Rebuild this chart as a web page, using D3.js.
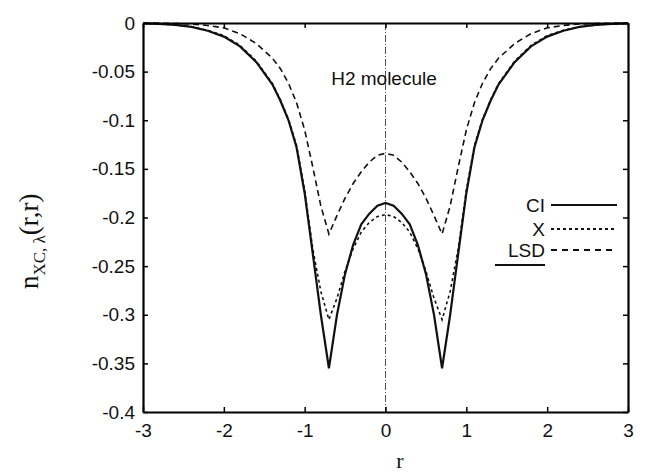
<!DOCTYPE html>
<html>
<head>
<meta charset="utf-8">
<script src="https://cdn.jsdelivr.net/npm/d3@7"></script>
<style>
  body { margin: 0; background: #fff; }
  svg { display: block; }
</style>
</head>
<body>
<div id="chart"></div>
<script>
// radial coordinate r along the bond axis
const rValues = [-3, -2.8, -2.6, -2.4, -2.2, -2.0, -1.8, -1.6, -1.4, -1.3, -1.2, -1.1, -1.0, -0.9, -0.8, -0.7,
  -0.6, -0.5, -0.4, -0.3, -0.2, -0.1, 0, 0.1, 0.2, 0.3, 0.4, 0.5, 0.6, 0.7, 0.8, 0.9, 1.0, 1.1, 1.2, 1.3, 1.4,
  1.6, 1.8, 2.0, 2.2, 2.4, 2.6, 2.8, 3];

const ciValues = [-0.0004, -0.001, -0.002, -0.004, -0.008, -0.014, -0.024, -0.040, -0.063, -0.080, -0.100, -0.128,
  -0.175, -0.237, -0.300, -0.355, -0.300, -0.258, -0.228, -0.207, -0.196, -0.188, -0.185, -0.188, -0.196, -0.207,
  -0.228, -0.258, -0.300, -0.355, -0.300, -0.237, -0.175, -0.128, -0.100, -0.080, -0.063, -0.040, -0.024, -0.014,
  -0.008, -0.004, -0.002, -0.001, -0.0004];

const xValues = [-0.0004, -0.0009, -0.0019, -0.0038, -0.0075, -0.013, -0.023, -0.039, -0.062, -0.079, -0.099, -0.126,
  -0.172, -0.232, -0.276, -0.305, -0.283, -0.255, -0.232, -0.215, -0.205, -0.199, -0.197, -0.199, -0.205, -0.215,
  -0.232, -0.255, -0.283, -0.305, -0.276, -0.232, -0.172, -0.126, -0.099, -0.079, -0.062, -0.039, -0.023, -0.013,
  -0.0075, -0.0038, -0.0019, -0.0009, -0.0004];

const lsdValues = [-0.0001, -0.0002, -0.0005, -0.001, -0.0025, -0.005, -0.011, -0.021, -0.036, -0.047, -0.062, -0.082,
  -0.110, -0.148, -0.188, -0.217, -0.198, -0.180, -0.165, -0.153, -0.143, -0.136, -0.134, -0.136, -0.143, -0.153,
  -0.165, -0.180, -0.198, -0.217, -0.188, -0.148, -0.110, -0.082, -0.062, -0.047, -0.036, -0.021, -0.011, -0.005,
  -0.0025, -0.001, -0.0005, -0.0002, -0.0001];

const xTicks = [-3, -2, -1, 0, 1, 2, 3];
const yTicks = [0, -0.05, -0.1, -0.15, -0.2, -0.25, -0.3, -0.35, -0.4];
const yTickLabels = ['0', '-0.05', '-0.1', '-0.15', '-0.2', '-0.25', '-0.3', '-0.35', '-0.4'];
const legendNames = ['CI', 'X', 'LSD'];

const W = 647, H = 476;
const plot = { left: 143, right: 628, top: 23, bottom: 412 };

const svg = d3.select('#chart').append('svg')
  .attr('width', W)
  .attr('height', H);

svg.append('rect').attr('width', W).attr('height', H).attr('fill', '#fff');

const x = d3.scaleLinear().domain([-3, 3]).range([plot.left, plot.right]);
const y = d3.scaleLinear().domain([-0.4, 0]).range([plot.bottom, plot.top]);

const tickFont = '"Liberation Sans", Arial, sans-serif';
const serifFont = '"Liberation Serif", "DejaVu Serif", serif';

// dash-dot line at r = 0
svg.append('line')
  .attr('x1', x(0)).attr('x2', x(0))
  .attr('y1', plot.top).attr('y2', plot.bottom)
  .attr('stroke', '#555')
  .attr('stroke-width', 1)
  .attr('stroke-dasharray', '7,2,1,2');

// curves
const series = [
  { values: ciValues, dash: null, width: 2.2 },
  { values: xValues, dash: '3,3', width: 1.6 },
  { values: lsdValues, dash: '6,4', width: 1.6 }
];

const line = d3.line()
  .x((d, i) => x(rValues[i]))
  .y(d => y(d));

series.forEach(s => {
  svg.append('path')
    .attr('d', line(s.values))
    .attr('fill', 'none')
    .attr('stroke', '#111')
    .attr('stroke-width', s.width)
    .attr('stroke-dasharray', s.dash);
});

// axes (box with inward ticks on all four sides)
const axisBottom = d3.axisBottom(x).tickValues(xTicks).tickSizeInner(-5).tickSizeOuter(0).tickPadding(12)
  .tickFormat(d => String(d));
const axisTop = d3.axisTop(x).tickValues(xTicks).tickSizeInner(-5).tickSizeOuter(0).tickFormat('');
const axisLeft = d3.axisLeft(y).tickValues(yTicks).tickSizeInner(-5).tickSizeOuter(0).tickPadding(8)
  .tickFormat((d, i) => yTickLabels[i]);
const axisRight = d3.axisRight(y).tickValues(yTicks).tickSizeInner(-5).tickSizeOuter(0).tickFormat('');

const gB = svg.append('g').attr('transform', `translate(0,${plot.bottom})`).call(axisBottom);
const gT = svg.append('g').attr('transform', `translate(0,${plot.top})`).call(axisTop);
const gL = svg.append('g').attr('transform', `translate(${plot.left},0)`).call(axisLeft);
const gR = svg.append('g').attr('transform', `translate(${plot.right},0)`).call(axisRight);

[gB, gT, gL, gR].forEach(g => {
  g.select('.domain').attr('stroke', '#000').attr('stroke-width', 2.2);
  g.selectAll('.tick line').attr('stroke', '#000').attr('stroke-width', 1.5);
  g.selectAll('.tick text')
    .attr('fill', '#111')
    .style('font-family', tickFont)
    .style('font-size', '19px');
});

// in-plot title
svg.append('text')
  .attr('x', 384).attr('y', 85)
  .attr('text-anchor', 'middle')
  .style('font-family', tickFont)
  .style('font-size', '19px')
  .attr('fill', '#111')
  .text('H2 molecule');

// legend
const legendY = [205, 229, 250];
const legendDash = [null, '3,3', '6,5'];
legendNames.forEach((name, i) => {
  svg.append('text')
    .attr('x', 545).attr('y', legendY[i] + 7)
    .attr('text-anchor', 'end')
    .style('font-family', tickFont)
    .style('font-size', '19px')
    .attr('fill', '#111')
    .text(name);
  svg.append('line')
    .attr('x1', 551).attr('x2', 617)
    .attr('y1', legendY[i]).attr('y2', legendY[i])
    .attr('stroke', '#111')
    .attr('stroke-width', 1.8)
    .attr('stroke-dasharray', legendDash[i]);
});
svg.append('line')
  .attr('x1', 495).attr('x2', 545)
  .attr('y1', 265).attr('y2', 265)
  .attr('stroke', '#111')
  .attr('stroke-width', 2);

// axis labels
svg.append('text')
  .attr('x', 400).attr('y', 468)
  .attr('text-anchor', 'middle')
  .style('font-family', serifFont)
  .style('font-size', '22px')
  .attr('fill', '#111')
  .text('r');

const yLab = svg.append('text')
  .attr('transform', 'translate(38,289) rotate(-90)')
  .attr('text-anchor', 'start')
  .style('font-family', serifFont)
  .style('font-size', '27px')
  .attr('fill', '#111');
yLab.append('tspan').text('n');
yLab.append('tspan').attr('dy', 7).style('font-size', '17px').text('XC, λ');
yLab.append('tspan').attr('dy', -7).text('(r,r)');
</script>
</body>
</html>
